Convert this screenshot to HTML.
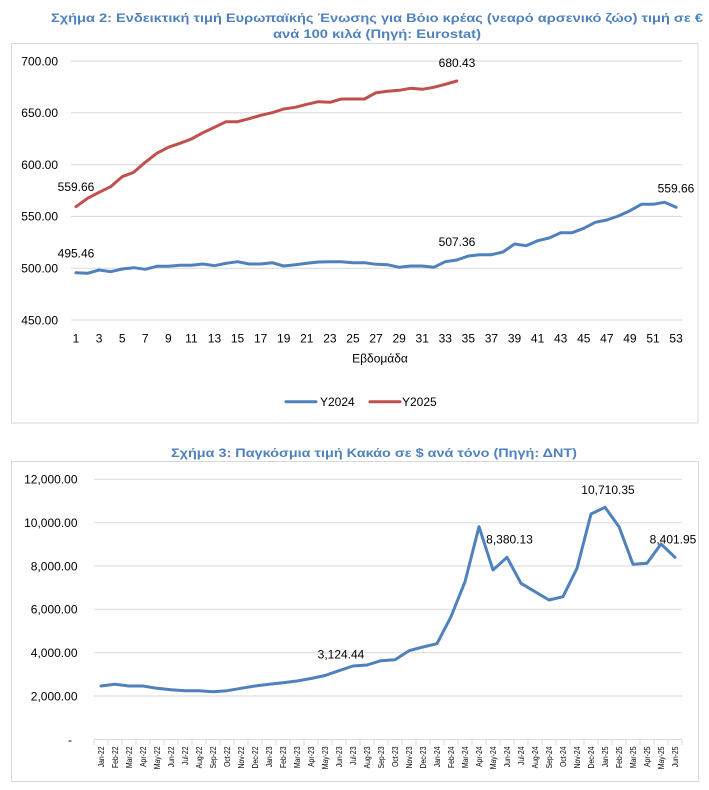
<!DOCTYPE html>
<html><head><meta charset="utf-8"><style>
html,body{margin:0;padding:0;background:#fff;}
svg{display:block;}
text{font-family:"Liberation Sans",Arial,sans-serif;}
</style></head><body>
<svg width="709" height="790" viewBox="0 0 709 790" xmlns="http://www.w3.org/2000/svg">
<rect x="0" y="0" width="709" height="790" fill="#fff"/>

<!-- Chart 1 title -->
<text x="377" y="22" font-size="12" font-weight="bold" fill="#4F81BD" text-anchor="middle" textLength="652" lengthAdjust="spacingAndGlyphs">Σχήμα 2: Ενδεικτική τιμή Ευρωπαϊκής Ένωσης για Βόιο κρέας (νεαρό αρσενικό ζώο) τιμή σε €</text>
<text x="377" y="38" font-size="12" font-weight="bold" fill="#4F81BD" text-anchor="middle" textLength="208" lengthAdjust="spacingAndGlyphs">ανά 100 κιλά (Πηγή: Eurostat)</text>

<!-- Chart 1 box -->
<rect x="11.5" y="43.5" width="686.5" height="379.5" fill="none" stroke="#d9d9d9" stroke-width="1"/>

<!-- Chart 1 gridlines -->
<g stroke="#d9d9d9" stroke-width="1">
<line x1="71" y1="61" x2="682" y2="61"/>
<line x1="71" y1="112.8" x2="682" y2="112.8"/>
<line x1="71" y1="164.6" x2="682" y2="164.6"/>
<line x1="71" y1="216.4" x2="682" y2="216.4"/>
<line x1="71" y1="268.2" x2="682" y2="268.2"/>
<line x1="71" y1="320" x2="682" y2="320"/>
</g>
<g font-size="12" fill="#000" text-anchor="end">
<text x="58" y="65.3">700.00</text>
<text x="58" y="117.1">650.00</text>
<text x="58" y="168.9">600.00</text>
<text x="58" y="220.7">550.00</text>
<text x="58" y="272.5">500.00</text>
<text x="58" y="324.3">450.00</text>
</g>
<g font-size="12" fill="#000" text-anchor="middle">
<text x="76" y="342.5">1</text>
<text x="99.08" y="342.5">3</text>
<text x="122.16" y="342.5">5</text>
<text x="145.24" y="342.5">7</text>
<text x="168.32" y="342.5">9</text>
<text x="191.4" y="342.5">11</text>
<text x="214.48" y="342.5">13</text>
<text x="237.56" y="342.5">15</text>
<text x="260.64" y="342.5">17</text>
<text x="283.72" y="342.5">19</text>
<text x="306.8" y="342.5">21</text>
<text x="329.88" y="342.5">23</text>
<text x="352.96" y="342.5">25</text>
<text x="376.04" y="342.5">27</text>
<text x="399.12" y="342.5">29</text>
<text x="422.2" y="342.5">31</text>
<text x="445.28" y="342.5">33</text>
<text x="468.36" y="342.5">35</text>
<text x="491.44" y="342.5">37</text>
<text x="514.52" y="342.5">39</text>
<text x="537.6" y="342.5">41</text>
<text x="560.68" y="342.5">43</text>
<text x="583.76" y="342.5">45</text>
<text x="606.84" y="342.5">47</text>
<text x="629.92" y="342.5">49</text>
<text x="653" y="342.5">51</text>
<text x="676.08" y="342.5">53</text>
<text x="380" y="362.5">Εβδομάδα</text>
</g>

<!-- Y2024 -->
<polyline fill="none" stroke="#4F81BD" stroke-width="3" stroke-linejoin="round" stroke-linecap="round" points="76,272.7 87.54,273.3 99.08,270 110.62,271.7 122.16,269 133.7,267.7 145.24,269.3 156.78,266.3 168.32,266.3 179.86,265.3 191.4,265.3 202.94,264 214.48,265.7 226.02,263.3 237.56,261.7 249.1,264 260.64,264 272.18,262.7 283.72,266 295.26,264.7 306.8,263.3 318.34,262 329.88,261.7 341.42,261.7 352.96,262.7 364.5,262.7 376.04,264.3 387.58,264.7 399.12,267.3 410.66,266 422.2,266 433.74,267.3 445.28,261.7 456.82,260 468.36,256 479.9,254.7 491.44,254.7 502.98,252 514.52,244 526.06,245.7 537.6,240.7 549.14,238 560.68,232.7 572.22,232.7 583.76,228.3 595.3,222.3 606.84,220 618.38,216 629.92,210.7 641.46,204.3 653,204.3 664.54,202.3 676.08,207.3"/>
<!-- Y2025 -->
<polyline fill="none" stroke="#C0504D" stroke-width="3" stroke-linejoin="round" stroke-linecap="round" points="76,206.7 87.54,198.3 99.08,192.3 110.62,186.7 122.16,176.7 133.7,172.3 145.24,162.3 156.78,153.3 168.32,147.3 179.86,143.3 191.4,139 202.94,132.7 214.48,127.3 226.02,121.7 237.56,121.7 249.1,118.7 260.64,115.3 272.18,112.7 283.72,109 295.26,107.3 306.8,104.3 318.34,101.7 329.88,102.3 341.42,99 352.96,99 364.5,99 376.04,92.7 387.58,91.3 399.12,90.3 410.66,88.3 422.2,89.3 433.74,87.3 445.28,84.3 456.82,81"/>

<g font-size="12" fill="#000" text-anchor="middle">
<text x="76" y="191">559.66</text>
<text x="457" y="67">680.43</text>
<text x="76" y="257.6">495.46</text>
<text x="457" y="246">507.36</text>
<text x="676" y="192.6">559.66</text>
</g>

<!-- Legend -->
<line x1="286" y1="401.7" x2="316" y2="401.7" stroke="#4F81BD" stroke-width="3" stroke-linecap="round"/>
<text x="320" y="406" font-size="12" fill="#000">Y2024</text>
<line x1="370" y1="401.7" x2="400" y2="401.7" stroke="#C0504D" stroke-width="3" stroke-linecap="round"/>
<text x="402" y="406" font-size="12" fill="#000">Y2025</text>

<!-- Chart 2 title -->
<text x="374" y="457" font-size="12" font-weight="bold" fill="#4F81BD" text-anchor="middle" textLength="406" lengthAdjust="spacingAndGlyphs">Σχήμα 3: Παγκόσμια τιμή Κακάο σε $ ανά τόνο (Πηγή: ΔΝΤ)</text>

<!-- Chart 2 box -->
<rect x="11.5" y="461.5" width="687" height="320" fill="none" stroke="#d9d9d9" stroke-width="1"/>

<g stroke="#d9d9d9" stroke-width="1">
<line x1="94" y1="479.3" x2="682" y2="479.3"/>
<line x1="94" y1="522.7" x2="682" y2="522.7"/>
<line x1="94" y1="566" x2="682" y2="566"/>
<line x1="94" y1="609.3" x2="682" y2="609.3"/>
<line x1="94" y1="652.7" x2="682" y2="652.7"/>
<line x1="94" y1="696" x2="682" y2="696"/>
<line x1="94" y1="739.5" x2="682" y2="739.5"/>
</g>
<g stroke="#d9d9d9" stroke-width="1">
<line x1="94" y1="739.5" x2="94" y2="745"/><line x1="108" y1="739.5" x2="108" y2="745"/><line x1="122" y1="739.5" x2="122" y2="745"/><line x1="136" y1="739.5" x2="136" y2="745"/><line x1="150" y1="739.5" x2="150" y2="745"/><line x1="164" y1="739.5" x2="164" y2="745"/><line x1="178" y1="739.5" x2="178" y2="745"/><line x1="192" y1="739.5" x2="192" y2="745"/><line x1="206" y1="739.5" x2="206" y2="745"/><line x1="220" y1="739.5" x2="220" y2="745"/><line x1="234" y1="739.5" x2="234" y2="745"/><line x1="248" y1="739.5" x2="248" y2="745"/><line x1="262" y1="739.5" x2="262" y2="745"/><line x1="276" y1="739.5" x2="276" y2="745"/><line x1="290" y1="739.5" x2="290" y2="745"/><line x1="304" y1="739.5" x2="304" y2="745"/><line x1="318" y1="739.5" x2="318" y2="745"/><line x1="332" y1="739.5" x2="332" y2="745"/><line x1="346" y1="739.5" x2="346" y2="745"/><line x1="360" y1="739.5" x2="360" y2="745"/><line x1="374" y1="739.5" x2="374" y2="745"/><line x1="388" y1="739.5" x2="388" y2="745"/><line x1="402" y1="739.5" x2="402" y2="745"/><line x1="416" y1="739.5" x2="416" y2="745"/><line x1="430" y1="739.5" x2="430" y2="745"/><line x1="444" y1="739.5" x2="444" y2="745"/><line x1="458" y1="739.5" x2="458" y2="745"/><line x1="472" y1="739.5" x2="472" y2="745"/><line x1="486" y1="739.5" x2="486" y2="745"/><line x1="500" y1="739.5" x2="500" y2="745"/><line x1="514" y1="739.5" x2="514" y2="745"/><line x1="528" y1="739.5" x2="528" y2="745"/><line x1="542" y1="739.5" x2="542" y2="745"/><line x1="556" y1="739.5" x2="556" y2="745"/><line x1="570" y1="739.5" x2="570" y2="745"/><line x1="584" y1="739.5" x2="584" y2="745"/><line x1="598" y1="739.5" x2="598" y2="745"/><line x1="612" y1="739.5" x2="612" y2="745"/><line x1="626" y1="739.5" x2="626" y2="745"/><line x1="640" y1="739.5" x2="640" y2="745"/><line x1="654" y1="739.5" x2="654" y2="745"/><line x1="668" y1="739.5" x2="668" y2="745"/><line x1="682" y1="739.5" x2="682" y2="745"/>
</g>

<g font-size="12" fill="#000" text-anchor="end">
<text x="77.5" y="483.6">12,000.00</text>
<text x="77.5" y="527">10,000.00</text>
<text x="77.5" y="570.3">8,000.00</text>
<text x="77.5" y="613.6">6,000.00</text>
<text x="77.5" y="657">4,000.00</text>
<text x="77.5" y="700.3">2,000.00</text>
<text x="72" y="743.8">-</text>
</g>

<g font-size="8.5" fill="#000" text-anchor="end">
<text transform="translate(104,746.5) rotate(-90) scale(0.8,1)">Jan-22</text>
<text transform="translate(118,746.5) rotate(-90) scale(0.8,1)">Feb-22</text>
<text transform="translate(132,746.5) rotate(-90) scale(0.8,1)">Mar-22</text>
<text transform="translate(146,746.5) rotate(-90) scale(0.8,1)">Apr-22</text>
<text transform="translate(160,746.5) rotate(-90) scale(0.8,1)">May-22</text>
<text transform="translate(174,746.5) rotate(-90) scale(0.8,1)">Jun-22</text>
<text transform="translate(188,746.5) rotate(-90) scale(0.8,1)">Jul-22</text>
<text transform="translate(202,746.5) rotate(-90) scale(0.8,1)">Aug-22</text>
<text transform="translate(216,746.5) rotate(-90) scale(0.8,1)">Sep-22</text>
<text transform="translate(230,746.5) rotate(-90) scale(0.8,1)">Oct-22</text>
<text transform="translate(244,746.5) rotate(-90) scale(0.8,1)">Nov-22</text>
<text transform="translate(258,746.5) rotate(-90) scale(0.8,1)">Dec-22</text>
<text transform="translate(272,746.5) rotate(-90) scale(0.8,1)">Jan-23</text>
<text transform="translate(286,746.5) rotate(-90) scale(0.8,1)">Feb-23</text>
<text transform="translate(300,746.5) rotate(-90) scale(0.8,1)">Mar-23</text>
<text transform="translate(314,746.5) rotate(-90) scale(0.8,1)">Apr-23</text>
<text transform="translate(328,746.5) rotate(-90) scale(0.8,1)">May-23</text>
<text transform="translate(342,746.5) rotate(-90) scale(0.8,1)">Jun-23</text>
<text transform="translate(356,746.5) rotate(-90) scale(0.8,1)">Jul-23</text>
<text transform="translate(370,746.5) rotate(-90) scale(0.8,1)">Aug-23</text>
<text transform="translate(384,746.5) rotate(-90) scale(0.8,1)">Sep-23</text>
<text transform="translate(398,746.5) rotate(-90) scale(0.8,1)">Oct-23</text>
<text transform="translate(412,746.5) rotate(-90) scale(0.8,1)">Nov-23</text>
<text transform="translate(426,746.5) rotate(-90) scale(0.8,1)">Dec-23</text>
<text transform="translate(440,746.5) rotate(-90) scale(0.8,1)">Jan-24</text>
<text transform="translate(454,746.5) rotate(-90) scale(0.8,1)">Feb-24</text>
<text transform="translate(468,746.5) rotate(-90) scale(0.8,1)">Mar-24</text>
<text transform="translate(482,746.5) rotate(-90) scale(0.8,1)">Apr-24</text>
<text transform="translate(496,746.5) rotate(-90) scale(0.8,1)">May-24</text>
<text transform="translate(510,746.5) rotate(-90) scale(0.8,1)">Jun-24</text>
<text transform="translate(524,746.5) rotate(-90) scale(0.8,1)">Jul-24</text>
<text transform="translate(538,746.5) rotate(-90) scale(0.8,1)">Aug-24</text>
<text transform="translate(552,746.5) rotate(-90) scale(0.8,1)">Sep-24</text>
<text transform="translate(566,746.5) rotate(-90) scale(0.8,1)">Oct-24</text>
<text transform="translate(580,746.5) rotate(-90) scale(0.8,1)">Nov-24</text>
<text transform="translate(594,746.5) rotate(-90) scale(0.8,1)">Dec-24</text>
<text transform="translate(608,746.5) rotate(-90) scale(0.8,1)">Jan-25</text>
<text transform="translate(622,746.5) rotate(-90) scale(0.8,1)">Feb-25</text>
<text transform="translate(636,746.5) rotate(-90) scale(0.8,1)">Mar-25</text>
<text transform="translate(650,746.5) rotate(-90) scale(0.8,1)">Apr-25</text>
<text transform="translate(664,746.5) rotate(-90) scale(0.8,1)">May-25</text>
<text transform="translate(678,746.5) rotate(-90) scale(0.8,1)">Jun-25</text>
</g>

<polyline fill="none" stroke="#4F81BD" stroke-width="3" stroke-linejoin="round" stroke-linecap="round" points="101,686 115,684.3 129,686 143,686 157,688.3 171,689.7 185,690.7 199,690.7 213,691.7 227,690.7 241,688.3 255,686 269,684.3 283,682.7 297,681 311,678.5 325,675.5 339,670.7 353,666 367,665 381,660.7 395,659.7 409,650.7 423,647 437,643.7 451,616.7 465,581.7 479,526.7 493,570 507,557.3 521,583.3 535,591.7 549,600 563,596.7 577,568.3 591,514 605,507.3 619,526.7 633,564.3 647,563.3 661,544 675,557.3"/>

<g font-size="12" fill="#000" text-anchor="middle">
<text x="341" y="658.5">3,124.44</text>
<text x="509.5" y="543.5">8,380.13</text>
<text x="608" y="494">10,710.35</text>
<text x="673" y="543.5">8,401.95</text>
</g>
</svg>
</body></html>
